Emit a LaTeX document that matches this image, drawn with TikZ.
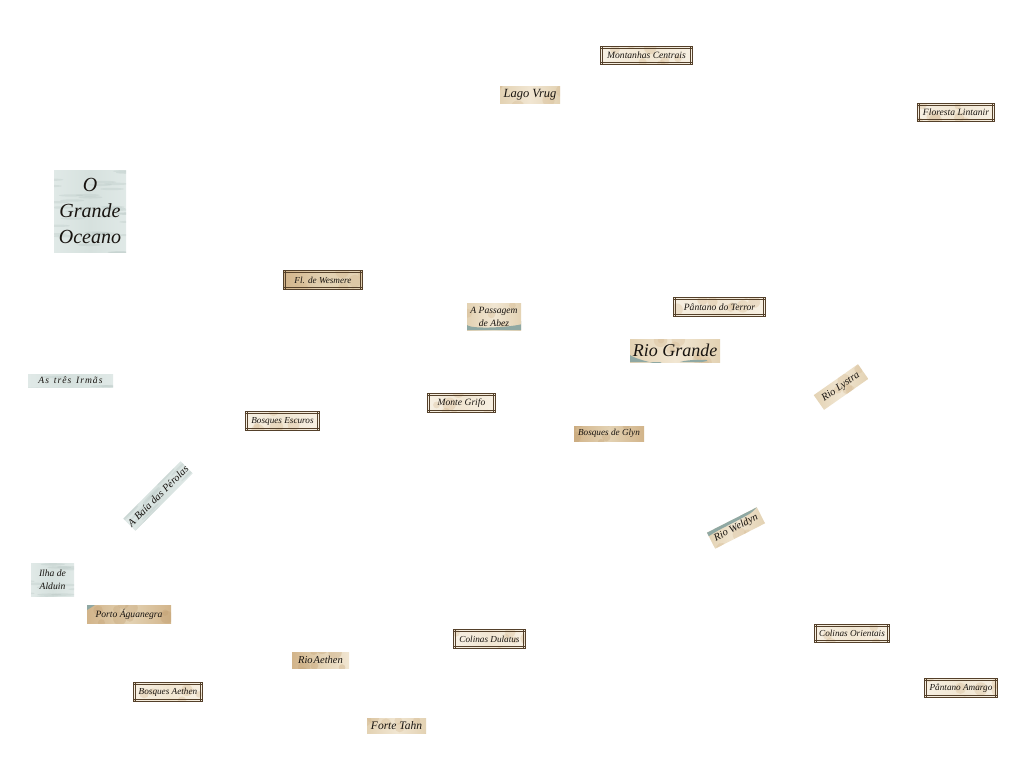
\documentclass[tikz,border=0pt]{standalone}
\usepackage{fontspec}
\setmainfont{Liberation Serif}
\usetikzlibrary{calc}
\definecolor{sea}{HTML}{E0E9E7}
\definecolor{seadark}{HTML}{D6E1DE}
\definecolor{seastreak}{HTML}{B5C4C1}
\definecolor{tan1}{HTML}{E3D2B3}
\definecolor{tan2}{HTML}{F1E6D2}
\definecolor{tan3}{HTML}{D2B48A}
\definecolor{tan4}{HTML}{BF9C6E}
\definecolor{pale}{HTML}{F7F0E3}
\definecolor{framec}{HTML}{54402A}
\definecolor{shorec}{HTML}{8FA8A3}
\definecolor{ink}{HTML}{181410}
\pgfmathsetseed{4242}
\tikzset{
  x=1pt,y=-1pt,
  lbl/.style 2 args={inner sep=0pt,outer sep=0pt,minimum width=#1pt,minimum height=#2pt,text=ink,font=\itshape\fontsize{9.6}{13}\selectfont,align=center},
  small/.style={font=\itshape\fontsize{9.2}{13}\selectfont},
  rotlab/.style={font=\itshape\fontsize{10.5}{13}\selectfont},
  parchment/.style={left color=tan1,right color=tan1,middle color=tan2,blotch={tan3}{}},
  darkparch/.style={left color=tan3,right color=tan3,middle color=tan1,blotch={tan4}{}},
  seapaper/.style={left color=sea,right color=sea,middle color=seadark,ripple},
  framed/.style={draw=framec,line width=0.8pt,left color=pale,right color=pale,middle color=tan2,blotch={tan3}{}},
  inset/.style={draw=framec,line width=0.65pt},
  blotch/.style 2 args={path picture={
    \foreach \i in {1,...,9}{
      \pgfmathsetmacro{\dx}{rand*48}\pgfmathsetmacro{\dy}{rand*14}\pgfmathsetmacro{\rr}{3+4*rnd}
      \fill[#1,opacity=.3] ($(path picture bounding box.center)+(\dx,\dy)$) circle[radius=\rr];
    }
    #2
  }},
  ripple/.style={path picture={
    \foreach \i in {1,...,34}{
      \pgfmathsetmacro{\dx}{rand*42}\pgfmathsetmacro{\dy}{rand*42}
      \fill[seastreak,opacity=.3] ($(path picture bounding box.center)+(\dx,\dy)$) ellipse[x radius=12,y radius=1.2];
    }
  }},
  big/.style={font=\itshape\fontsize{20}{26}\selectfont},
  mid/.style={font=\itshape\fontsize{18}{20}\selectfont},
  med/.style={font=\itshape\fontsize{12.5}{15}\selectfont},
  shore/.style={fill=shorec}
}
\begin{document}
\begin{tikzpicture}
\useasboundingbox (0,0) rectangle (1024,768);
% framed labels
\node[lbl={92}{18},framed] (mc) at (646.5,55.5) {Montanhas Centrais};
\node[lbl={77}{18},framed] (fl) at (956,112.5) {Floresta Lintanir};
\node[lbl={79}{19},framed,small,left color=tan3,right color=tan1,middle color=tan1] (we) at (323,280) {Fl. de Wesmere};
\node[lbl={92}{19},framed] (pt) at (719.5,307) {Pântano do Terror};
\node[lbl={68}{19},framed] (mg) at (461.5,403) {Monte Grifo};
\node[lbl={74}{19},framed,small] (be) at (282.5,421) {Bosques Escuros};
\node[lbl={72}{19},framed,small] (cd) at (489.5,639) {Colinas Dulatus};
\node[lbl={75}{18},framed,small] (co) at (852,633.5) {Colinas Orientais};
\node[lbl={69}{19},framed,small] (ba) at (168,692) {Bosques Aethen};
\node[lbl={73}{19},framed,small] (pa) at (961,688) {Pântano Amargo};
\foreach \n in {mc,fl,we,pt,mg,be,cd,co,ba,pa}{
  \draw[inset] ($(\n.north west)+(0,2.3)$) -- ($(\n.north east)+(0,2.3)$);
  \draw[inset] ($(\n.south west)+(0,-2.3)$) -- ($(\n.south east)+(0,-2.3)$);
  \draw[inset] ($(\n.north west)+(2.3,0)$) -- ($(\n.south west)+(2.3,0)$);
  \draw[inset] ($(\n.north east)+(-2.3,0)$) -- ($(\n.south east)+(-2.3,0)$);
}
% sea labels
\node[lbl={72}{82},seapaper,big] (og) at (90,211) {O\\Grande\\Oceano};
\node[lbl={85}{13},seapaper] (ti) at (70.5,380.5) {A\kern1pt s\ \ t\kern1pt r\kern1pt ê\kern1pt s\ \ I\kern1pt r\kern1pt m\kern1pt ã\kern1pt s};
\node[lbl={79}{17},seapaper,rotlab,rotate=45] (bp) at (158,496) {A Baía das Pérolas};
\node[lbl={43}{33},seapaper] (ia) at (52.5,579.5) {Ilha de\\Alduin};
% parchment labels
\node[lbl={60}{17},parchment,med] (lv) at (530,94.5) {Lago Vrug};
\node[lbl={54}{27},left color=tan1,right color=tan1,middle color=tan2,blotch={tan3}{
  \fill[shore] (path picture bounding box.south west) ++(0,-5) .. controls +(6,6) and +(20,4) .. ++(54,-4) -- ++(0,9) -- ++(-54,0) -- cycle;
}] (ab) at (494,316.5) {A Passagem\\de Abez};
\node[lbl={90}{23},left color=tan1,right color=tan1,middle color=tan2,mid,blotch={tan3}{
  \fill[shore] (path picture bounding box.south west) -- ++(0,-7) .. controls +(6,5) and +(12,6) .. ++(30,7) -- cycle;
  \fill[shore] (path picture bounding box.south west) ++(50,0) .. controls +(8,-3) and +(18,-3) .. ++(22,0) -- cycle;
}] (rg) at (675,350.5) {Rio Grande};
\node[lbl={70}{15},darkparch,small] (bg) at (609,433.5) {Bosques de Glyn};
\node[lbl={54}{18},parchment,rotlab,rotate=35] (rl) at (841,387) {Rio Lystra};
\node[lbl={56}{18},parchment,rotlab,rotate=27] (rw) at (736,528) {Rio Weldyn};
\begin{scope}[shift={(rw.center)},rotate=27]
  \fill[shore] (-28,-9) -- (28,-9) -- (22,-7) .. controls (8,-5) and (-14,-7) .. (-28,-5) -- cycle;
\end{scope}
\node[lbl={84}{18},left color=tan3,right color=tan3,middle color=tan1,blotch={tan4}{
  \fill[shore] (path picture bounding box.north west) -- ++(8,0) -- ++(-8,5) -- cycle;
}] (pg) at (129,614) {Porto Águanegra};
\node[lbl={57}{16},darkparch,font=\itshape\fontsize{10.5}{13}\selectfont,left color=tan3,right color=tan2,middle color=tan1] (ra) at (320.5,660) {Rio\kern1pt Aethen};
\node[lbl={59}{15},parchment,font=\itshape\fontsize{11.5}{13}\selectfont] (ft) at (396.5,725.5) {Forte Tahn};
\end{tikzpicture}
\end{document}
